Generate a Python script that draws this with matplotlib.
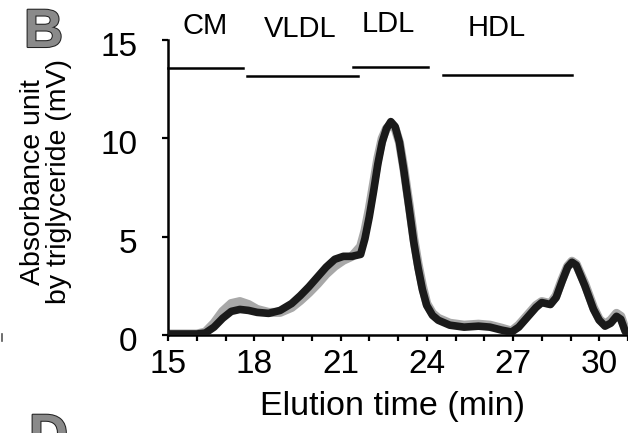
import numpy as np
import matplotlib
matplotlib.use("Agg")
import matplotlib.pyplot as plt
import matplotlib.patheffects as pe
import matplotlib.transforms as mtransforms
from matplotlib.lines import Line2D

plt.rcParams['font.family'] = ['Liberation Sans', 'DejaVu Sans']

# elution time (min) and absorbance (mV)
time = [15.0, 15.5, 16.0, 16.3, 16.6, 16.9, 17.2, 17.5, 17.8, 18.1, 18.5,
        18.9, 19.3, 19.6, 19.9, 20.2, 20.5, 20.8, 21.1, 21.4, 21.7, 21.85,
        22.0, 22.15, 22.3, 22.45, 22.6, 22.75, 22.9, 23.05, 23.2, 23.4,
        23.55, 23.7, 23.85, 24.0, 24.2, 24.4, 24.8, 25.3, 25.8, 26.2, 26.6,
        26.95, 27.2, 27.5, 27.8, 28.0, 28.3, 28.5, 28.7, 28.9, 29.05, 29.2,
        29.5, 29.8, 30.0, 30.2, 30.4, 30.6, 30.75, 30.9, 31.0]
black = [0.05, 0.05, 0.05, 0.1, 0.4, 0.85, 1.2, 1.3, 1.25, 1.15, 1.1,
         1.25, 1.6, 2.0, 2.45, 2.95, 3.45, 3.85, 4.0, 4.0, 4.1, 4.9,
         6.0, 7.3, 8.7, 9.8, 10.5, 10.85, 10.6, 9.8, 8.4, 6.3,
         4.7, 3.4, 2.3, 1.5, 1.0, 0.75, 0.5, 0.4, 0.45, 0.4, 0.25,
         0.15, 0.4, 0.9, 1.4, 1.65, 1.55, 1.9, 2.7, 3.45, 3.7, 3.55,
         2.5, 1.3, 0.75, 0.45, 0.6, 0.95, 0.8, 0.2, 0.0]
gray = [0.05, 0.05, 0.05, 0.15, 0.6, 1.2, 1.6, 1.7, 1.55, 1.3, 1.15,
        1.15, 1.4, 1.75, 2.15, 2.6, 3.1, 3.5, 3.8, 4.0, 4.5, 5.3,
        6.4, 7.7, 9.0, 10.0, 10.5, 10.7, 10.5, 9.8, 8.5, 6.5,
        4.9, 3.6, 2.5, 1.6, 1.1, 0.85, 0.6, 0.5, 0.55, 0.5, 0.35,
        0.2, 0.5, 1.0, 1.5, 1.7, 1.6, 2.0, 2.8, 3.5, 3.75, 3.6,
        2.6, 1.4, 0.8, 0.55, 0.75, 1.1, 0.95, 0.3, 0.0]

# lipoprotein fractions: name, start, end, bar level
fractions = ['CM', 'VLDL', 'LDL', 'HDL']
frac_start = [15.0, 17.75, 21.45, 24.55]
frac_end = [17.6, 21.6, 24.05, 29.05]
frac_level = [13.6, 13.15, 13.65, 13.2]
frac_label_x = [16.3, 19.6, 22.65, 26.45]
frac_label_y = [15.0, 14.85, 15.1, 14.9]

xticks = list(range(15, 32))
xtick_labels = [str(t) if t in (15, 18, 21, 24, 27, 30) else '' for t in xticks]
yticks = [0, 5, 10, 15]

fig = plt.figure(figsize=(6.28, 4.33), dpi=100)
ax = fig.add_axes([168 / 628, 1 - 335 / 433, 1 - 168 / 628, (335 - 40) / 433])

ax.plot(time, gray, color='#a8a8a8', lw=6.5, solid_capstyle='round', zorder=2)
ax.plot(time, black, color='#1a1a1a', lw=5.5, solid_capstyle='round', zorder=3)

for s, e, lv in zip(frac_start, frac_end, frac_level):
    ax.plot([s, e], [lv, lv], color='black', lw=1.8, clip_on=False, zorder=4)
for name, lx, ly in zip(fractions, frac_label_x, frac_label_y):
    ax.text(lx, ly, name, ha='center', va='bottom', fontsize=21, clip_on=False)

ax.set_xlim(15, 30.95)
ax.set_ylim(0, 15)
ax.set_xticks(xticks)
ax.set_xticklabels(xtick_labels)
ax.set_yticks(yticks)

for sp in ['top', 'right']:
    ax.spines[sp].set_visible(False)
for sp in ['left', 'bottom']:
    ax.spines[sp].set_linewidth(1.8)

ax.tick_params(axis='x', direction='out', length=4, width=1.6, labelsize=24, pad=6)
ax.tick_params(axis='y', direction='out', length=4, width=1.6, labelsize=24, pad=18)

offset = mtransforms.ScaledTranslation(0, -4 / 100, fig.dpi_scale_trans)
for lab in ax.get_yticklabels():
    lab.set_transform(lab.get_transform() + offset)

fig.text(46 / 628, 1 - 182 / 433, 'Absorbance unit\nby triglyceride (mV)',
         rotation=90, ha='center', va='center', fontsize=20.5, linespacing=0.95)
fig.text(392 / 628, 1 - 415 / 433, 'Elution time (min)', ha='center',
         va='baseline', fontsize=24.5)

fx = [pe.Stroke(linewidth=1.5, foreground='#222222'), pe.Normal()]
fig.text(24 / 628, 1 - 47 / 433, 'B', fontsize=39, fontweight='bold',
         color='#8a8a8a', ha='left', va='baseline', path_effects=fx)
fig.text(29 / 628, 1 - 452 / 433, 'D', fontsize=39, fontweight='bold',
         color='#8a8a8a', ha='left', va='baseline', path_effects=fx)

fig.add_artist(Line2D([1.5 / 628, 1.5 / 628], [1 - 334 / 433, 1 - 341 / 433],
                      color='#555555', lw=1.2))

fig.savefig('out.png', dpi=100)
